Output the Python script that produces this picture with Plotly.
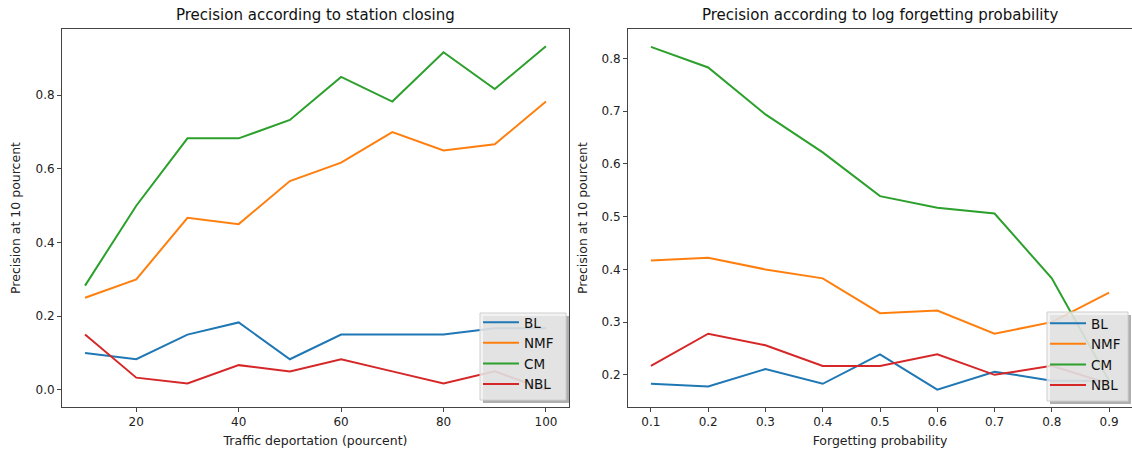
import plotly.graph_objects as go

# ---- data ----
station_x = [10, 20, 30, 40, 50, 60, 70, 80, 90, 100]
station_BL = [0.100, 0.083, 0.150, 0.183, 0.083, 0.150, 0.150, 0.150, 0.167, 0.167]
station_NMF = [0.250, 0.300, 0.467, 0.450, 0.567, 0.617, 0.700, 0.650, 0.667, 0.783]
station_CM = [0.283, 0.500, 0.683, 0.683, 0.733, 0.850, 0.783, 0.917, 0.817, 0.933]
station_NBL = [0.150, 0.033, 0.017, 0.067, 0.050, 0.083, 0.050, 0.017, 0.050, 0.000]

forget_x = [0.1, 0.2, 0.3, 0.4, 0.5, 0.6, 0.7, 0.8, 0.9]
forget_BL = [0.183, 0.178, 0.211, 0.183, 0.239, 0.172, 0.206, 0.189, 0.189]
forget_NMF = [0.417, 0.422, 0.400, 0.383, 0.317, 0.322, 0.278, 0.300, 0.356]
forget_CM = [0.822, 0.783, 0.694, 0.622, 0.539, 0.517, 0.506, 0.383, 0.189]
forget_NBL = [0.217, 0.278, 0.256, 0.217, 0.217, 0.239, 0.200, 0.217, 0.183]

series_names = ["BL", "NMF", "CM", "NBL"]
colors = ["#1f77b4", "#ff7f0e", "#2ca02c", "#d62728"]

titles = ["Precision according to station closing",
          "Precision according to log forgetting probability"]
xlabels = ["Traffic deportation (pourcent)", "Forgetting probability"]
ylabel = "Precision at 10 pourcent"

# ---- layout geometry (pixels) ----
W, H = 1132, 450
ML, MR, MT, MB = 62, 0, 29, 43
PW = W - ML - MR
PH = H - MT - MB


def px(x):
    return (x - ML) / PW


def py(y):
    return (H - MB - y) / PH


fig = go.Figure()

left_series = [station_BL, station_NMF, station_CM, station_NBL]
right_series = [forget_BL, forget_NMF, forget_CM, forget_NBL]

for name, col, ys in zip(series_names, colors, left_series):
    fig.add_trace(go.Scatter(x=station_x, y=ys, mode="lines", name=name,
                             line=dict(color=col, width=2),
                             xaxis="x", yaxis="y", legend="legend"))
for name, col, ys in zip(series_names, colors, right_series):
    fig.add_trace(go.Scatter(x=forget_x, y=ys, mode="lines", name=name,
                             line=dict(color=col, width=2),
                             xaxis="x2", yaxis="y2", legend="legend2"))

tickfont = dict(family="DejaVu Sans", size=12, color="#222")
axis_common = dict(showgrid=False, zeroline=False, showline=True,
                   linecolor="#444", linewidth=1, ticks="outside",
                   ticklen=4, tickcolor="#444", tickwidth=1,
                   tickfont=tickfont)

left_dom = [0, px(569)]
right_dom = [px(628), 1.0]

legend_common = dict(bgcolor="rgba(0,0,0,0)", borderwidth=0,
                     font=dict(family="DejaVu Sans", size=13.5, color="#111"),
                     xanchor="left", yanchor="bottom", itemwidth=36,
                     tracegroupgap=0)

fig.update_layout(
    width=W, height=H,
    margin=dict(l=ML, r=MR, t=MT, b=MB),
    paper_bgcolor="white", plot_bgcolor="white",
    font=dict(family="DejaVu Sans", color="#222"),
    xaxis=dict(domain=left_dom, range=[5.5, 104.5], tickvals=[20, 40, 60, 80, 100],
               mirror=True, anchor="y",
               title=dict(text=xlabels[0], font=dict(size=12.5), standoff=7),
               **axis_common),
    yaxis=dict(domain=[0, 1], range=[-0.0467, 0.98], tickvals=[0, 0.2, 0.4, 0.6, 0.8],
               tickformat=".1f", mirror=True, anchor="x",
               title=dict(text=ylabel, font=dict(size=12.5), standoff=12),
               **axis_common),
    xaxis2=dict(domain=right_dom, range=[0.06, 0.94], tickvals=forget_x,
                tickformat=".1f", mirror=True, anchor="y2",
                title=dict(text=xlabels[1], font=dict(size=12.5), standoff=7),
                **axis_common),
    yaxis2=dict(domain=[0, 1], range=[0.139, 0.856],
                tickvals=[0.2, 0.3, 0.4, 0.5, 0.6, 0.7, 0.8],
                tickformat=".1f", mirror=False, anchor="x2",
                title=dict(text=ylabel, font=dict(size=12.5), standoff=11),
                **axis_common),
    legend=dict(x=px(478), y=py(400), **legend_common),
    legend2=dict(x=px(1045), y=py(401), **legend_common),
    showlegend=True,
)

# titles
for dom, t in zip([left_dom, right_dom], titles):
    fig.add_annotation(text=t, xref="paper", yref="paper",
                       x=(dom[0] + dom[1]) / 2, y=py(15),
                       xanchor="center", yanchor="middle", showarrow=False,
                       font=dict(family="DejaVu Sans", size=15, color="#111"))

# legend frames with shadows (matplotlib shadow=True look)
for (x0, y0, x1, y1) in [(480, 313, 566, 400), (1047, 312, 1128, 401)]:
    fig.add_shape(type="rect", xref="paper", yref="paper",
                  x0=px(x0 + 3), x1=px(x1 + 3), y0=py(y1 + 3), y1=py(y0 + 3),
                  fillcolor="rgba(110,110,110,0.55)", line=dict(width=0),
                  layer="above")
    fig.add_shape(type="rect", xref="paper", yref="paper",
                  x0=px(x0), x1=px(x1), y0=py(y1), y1=py(y0),
                  fillcolor="rgba(240,240,240,0.8)",
                  line=dict(color="#cfcfcf", width=1),
                  layer="above")

fig.write_html("out.html")
